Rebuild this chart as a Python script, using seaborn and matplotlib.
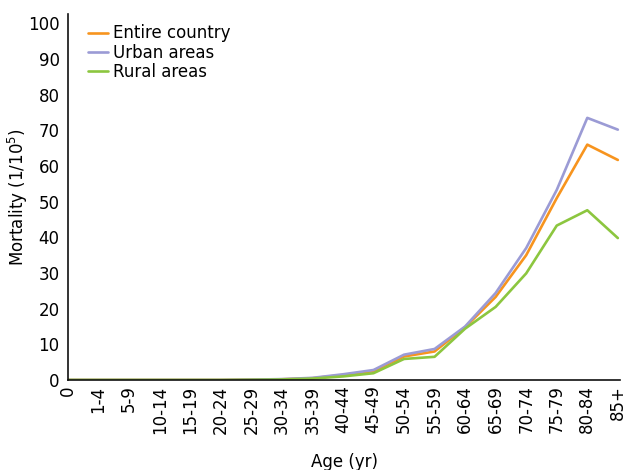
import numpy as np
import pandas as pd
import matplotlib
matplotlib.use("Agg")
import matplotlib.pyplot as plt
import seaborn as sns

# Age groups on the horizontal axis
age_groups = ["0", "1-4", "5-9", "10-14", "15-19", "20-24", "25-29", "30-34",
              "35-39", "40-44", "45-49", "50-54", "55-59", "60-64", "65-69",
              "70-74", "75-79", "80-84", "85+"]

# Mortality per 100 000 population
entire_country = [0, 0, 0, 0, 0, 0, 0.1, 0.2, 0.5, 1.4, 2.5, 6.6, 8.0, 14.8,
                  23.3, 35.0, 51.0, 66.0, 61.7]
urban_areas = [0, 0, 0, 0, 0, 0, 0.1, 0.25, 0.6, 1.6, 2.8, 7.1, 8.7, 15.0,
               24.4, 37.0, 53.3, 73.5, 70.2]
rural_areas = [0, 0, 0, 0, 0, 0, 0.05, 0.15, 0.4, 1.0, 1.9, 5.9, 6.5, 14.4,
               20.5, 29.9, 43.3, 47.6, 39.8]

series_names = ["Entire country", "Urban areas", "Rural areas"]
series_colors = ["#F7941E", "#9B9BD5", "#8CC63F"]

sns.set_theme(style="white")
plt.rcParams["font.family"] = ["DejaVu Sans"]
plt.rcParams["text.color"] = "black"
plt.rcParams["axes.labelcolor"] = "black"
plt.rcParams["xtick.color"] = "black"
plt.rcParams["ytick.color"] = "black"

idx = np.arange(len(age_groups))
df = pd.concat([
    pd.DataFrame({"pos": idx, "value": vals, "series": name})
    for name, vals in zip(series_names, [entire_country, urban_areas, rural_areas])
], ignore_index=True)

fig = plt.figure(figsize=(6.27, 4.70), dpi=100)
ax = fig.add_axes([0.1085, 0.1915, 0.8803, 0.7785])

sns.lineplot(data=df, x="pos", y="value", hue="series", hue_order=series_names,
             palette=series_colors, linewidth=1.9, ax=ax, legend=False)

ax.set_xlim(0, 18.07)
ax.set_ylim(0, 102.6)
ax.set_xticks(idx)
ax.set_xticklabels(age_groups, rotation=90, fontsize=12)
ax.set_yticks(np.arange(0, 101, 10))
ax.tick_params(axis="y", labelsize=12)
ax.tick_params(direction="in", length=6, width=1.0, color="#333333")
ax.tick_params(axis="y", pad=6)
ax.tick_params(axis="x", pad=4)

for side in ["top", "right"]:
    ax.spines[side].set_visible(False)
for side in ["left", "bottom"]:
    ax.spines[side].set_color("#111111")
    ax.spines[side].set_linewidth(1.2)

ax.set_xlabel("Age (yr)", fontsize=12, labelpad=14)
ax.set_ylabel("Mortality (1/10$^5$)", fontsize=12)
ax.yaxis.set_label_coords(-0.068, 0.5)

handles = [plt.Line2D([], [], color=c, linewidth=1.9) for c in series_colors]
ax.legend(handles, series_names, loc="upper left", bbox_to_anchor=(0.025, 0.99),
          frameon=False, fontsize=12, handlelength=1.15, handletextpad=0.35,
          labelspacing=0.08, borderaxespad=0.0)

fig.savefig("out.png", dpi=100)
